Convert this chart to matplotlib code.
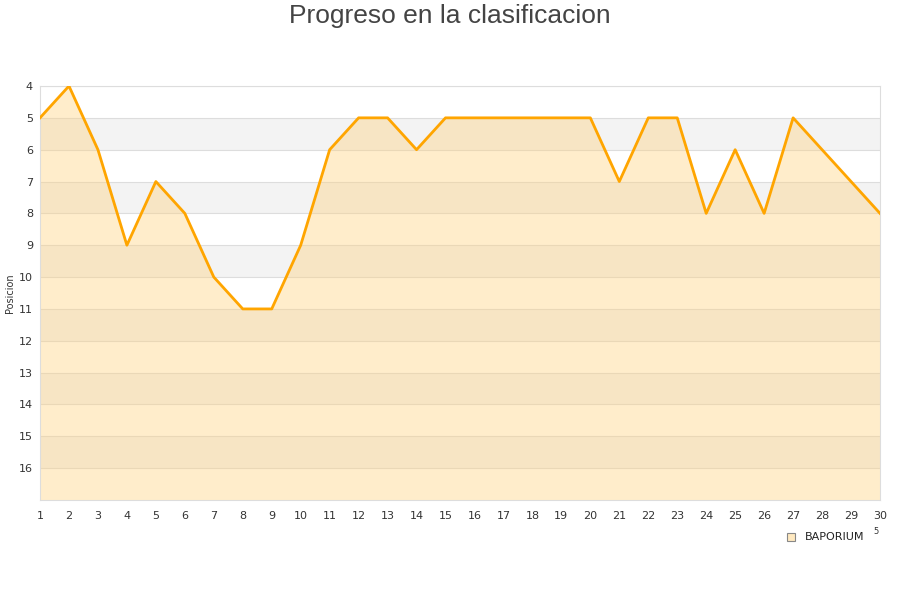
import numpy as np
import matplotlib.pyplot as plt

# jornadas y posicion
jornadas = list(range(1, 31))
posicion = [5, 4, 6, 9, 7, 8, 10, 11, 11, 9, 6, 5, 5, 6, 5,
            5, 5, 5, 5, 5, 7, 5, 5, 8, 6, 8, 5, 6, 7, 8]
equipo = "BAPORIUM"
yticks = list(range(4, 17))

fig = plt.figure(figsize=(9, 6), dpi=100)
ax = fig.add_axes([40/900, 1-500/600, 840/900, 414/600])

ymin, ymax = 4, 17
# bandas alternas de fondo
for k in range(ymin, ymax):
    if (k - ymin) % 2 == 1:
        ax.axhspan(k, k+1, color='#f3f3f3', zorder=0, lw=0)
for k in range(ymin, ymax):
    ax.axhline(k, color='#dddddd', lw=0.8, zorder=1)

ax.fill_between(jornadas, posicion, ymax, color='#ffd27f', alpha=0.4,
                lw=0, zorder=2)
ax.plot(jornadas, posicion, color='#ffa500', lw=2, zorder=3)

ax.set_xlim(1, 30)
ax.set_ylim(ymax, ymin)
ax.set_xticks(jornadas)
ax.set_yticks(yticks)
ax.tick_params(length=0, labelsize=8, colors='#333333', pad=8)
ax.tick_params(axis='y', pad=5)
for s in ax.spines.values():
    s.set_color('#dddddd')
fig.text(10/900, 1-293/600, "Posicion", fontsize=7, color='#333333',
         rotation=90, ha='center', va='center')

fig.text(0.5, 1-16/600, "Progreso en la clasificacion", ha='center',
         va='center', fontsize=19, color='#444444', family='Liberation Sans')

# leyenda
fig.patches.append(plt.Rectangle((787/900, 1-541/600), 8/900, 8/600,
                                 transform=fig.transFigure, facecolor='#ffe9c0',
                                 edgecolor='#888888', lw=0.8))
fig.text(805/900, 1-537/600, equipo, fontsize=8, va='center', color='#222222')
fig.text(873/900, 1-532/600, "5", fontsize=6, va='center', color='#333333')

fig.savefig("out.png", dpi=100)
